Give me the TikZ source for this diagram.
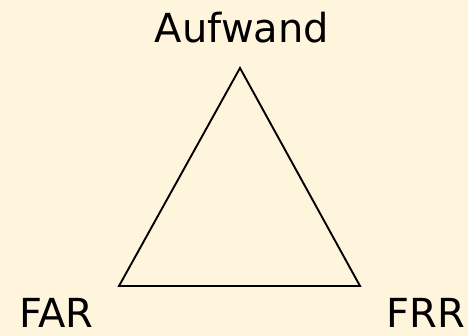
\documentclass[tikz,border=0pt]{standalone}
\usepackage{fontspec}
\setmainfont{DejaVu Sans}
\definecolor{paper}{HTML}{FFF5DC}
\tikzset{
    ecke/.style={font=\fontsize{40}{44}\selectfont, inner sep=0pt, anchor=base},
}
\begin{document}
\begin{tikzpicture}[x=1pt, y=-1pt]
    % Hintergrund legt die Bildgroesse fest
    \fill[paper] (0,0) rectangle (468,336);
    \useasboundingbox (0,0) rectangle (468,336);
    \coordinate (oben) at (240,68);
    \coordinate (links) at (119,286);
    \coordinate (rechts) at (360,286);
    \draw[line width=1.9pt, line join=miter] (oben) -- (links) -- (rechts) -- cycle;
    \node[ecke] (aufwand) at (242,43) {Aufwand};
    \node[ecke, anchor=base west] (far) at (19,327) {FAR};
    \node[ecke, anchor=base east] (frr) at (465,327) {FRR};
\end{tikzpicture}
\end{document}
